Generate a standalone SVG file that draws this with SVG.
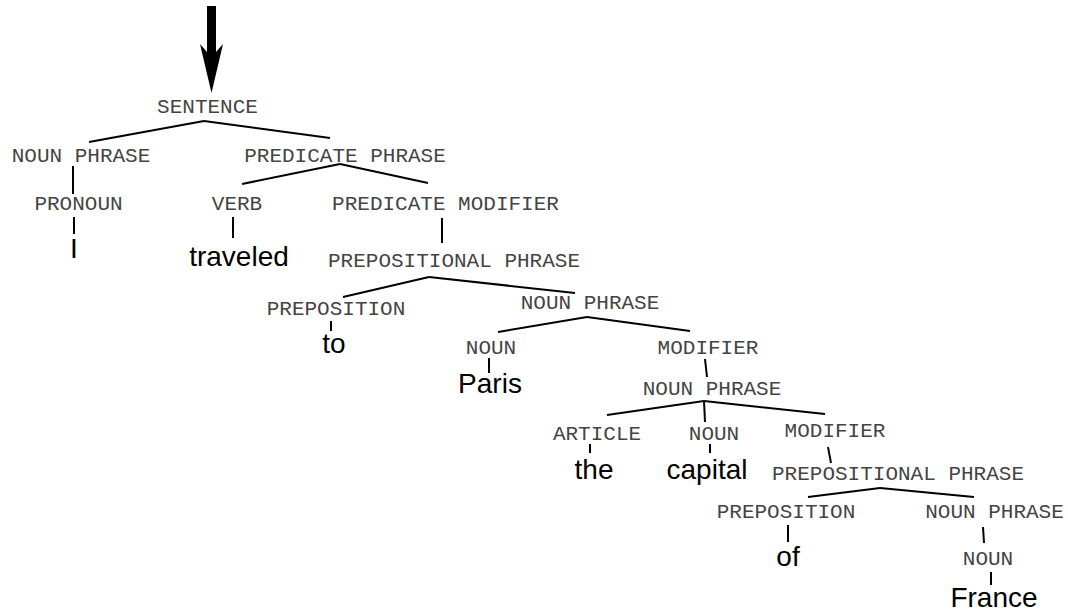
<svg xmlns="http://www.w3.org/2000/svg" width="1068" height="613" viewBox="0 0 1068 613">
  <style>
    .cat { font-family: "Liberation Mono", "Courier New", monospace; font-size: 21px; fill: #444; text-anchor: middle; }
    .word { font-family: "Liberation Sans", Arial, sans-serif; font-size: 28px; fill: #000; text-anchor: middle; }
    .edges line { stroke: #000; stroke-width: 2; stroke-linecap: butt; }
  </style>
  <rect width="1068" height="613" fill="#fff"/>

  <!-- entry arrow pointing down to the root -->
  <polygon id="entry-arrow" points="207,6 216,6 216,52 223,44 211.5,93 200,44 207,52" fill="#000"/>

  <!-- tree edges -->
  <g id="connectors" class="edges">
    <line x1="204" y1="121" x2="89" y2="142"/>
    <line x1="204" y1="121" x2="330" y2="138"/>
    <line x1="340" y1="164" x2="242" y2="184"/>
    <line x1="340" y1="164" x2="428" y2="183"/>
    <line x1="73" y1="166" x2="73" y2="194"/>
    <line x1="74" y1="217" x2="74" y2="234"/>
    <line x1="233" y1="217" x2="233" y2="238"/>
    <line x1="442" y1="218" x2="442" y2="243"/>
    <line x1="429" y1="277" x2="343" y2="297"/>
    <line x1="429" y1="277" x2="575" y2="293"/>
    <line x1="331" y1="321" x2="331" y2="331"/>
    <line x1="587" y1="317" x2="498" y2="332"/>
    <line x1="587" y1="317" x2="690" y2="331"/>
    <line x1="489" y1="358" x2="489" y2="373"/>
    <line x1="705" y1="359" x2="707" y2="377"/>
    <line x1="704" y1="401" x2="607" y2="415"/>
    <line x1="704" y1="401" x2="705" y2="422"/>
    <line x1="704" y1="401" x2="825" y2="414"/>
    <line x1="590" y1="444" x2="590" y2="453"/>
    <line x1="710" y1="444" x2="710" y2="453"/>
    <line x1="828" y1="447" x2="831" y2="463"/>
    <line x1="880" y1="488" x2="808" y2="497"/>
    <line x1="880" y1="488" x2="974" y2="497"/>
    <line x1="788" y1="525" x2="788" y2="542"/>
    <line x1="983" y1="527" x2="984" y2="543"/>
    <line x1="991" y1="572" x2="991" y2="585"/>
  </g>

  <!-- category nodes -->
  <g id="n-sentence"><text class="cat" x="207.5" y="113">SENTENCE</text></g>
  <g id="n-np1"><text class="cat" x="81" y="162">NOUN PHRASE</text></g>
  <g id="n-pp-pred"><text class="cat" x="345" y="162">PREDICATE PHRASE</text></g>
  <g id="n-pronoun"><text class="cat" x="78.5" y="210">PRONOUN</text></g>
  <g id="n-verb"><text class="cat" x="237" y="210">VERB</text></g>
  <g id="n-predmod"><text class="cat" x="445.5" y="210">PREDICATE MODIFIER</text></g>
  <g id="n-prepphrase1"><text class="cat" x="454" y="267">PREPOSITIONAL PHRASE</text></g>
  <g id="n-prep1"><text class="cat" x="336" y="315">PREPOSITION</text></g>
  <g id="n-np2"><text class="cat" x="590" y="309">NOUN PHRASE</text></g>
  <g id="n-noun1"><text class="cat" x="491" y="354">NOUN</text></g>
  <g id="n-mod1"><text class="cat" x="708" y="354">MODIFIER</text></g>
  <g id="n-np3"><text class="cat" x="712" y="395">NOUN PHRASE</text></g>
  <g id="n-article"><text class="cat" x="597" y="440">ARTICLE</text></g>
  <g id="n-noun2"><text class="cat" x="714" y="440">NOUN</text></g>
  <g id="n-mod2"><text class="cat" x="835" y="437">MODIFIER</text></g>
  <g id="n-prepphrase2"><text class="cat" x="898" y="480">PREPOSITIONAL PHRASE</text></g>
  <g id="n-prep2"><text class="cat" x="786" y="518">PREPOSITION</text></g>
  <g id="n-np4"><text class="cat" x="994.5" y="518">NOUN PHRASE</text></g>
  <g id="n-noun3"><text class="cat" x="988" y="565">NOUN</text></g>

  <!-- leaf words -->
  <g id="w-i"><text class="word" x="74" y="258">I</text></g>
  <g id="w-traveled"><text class="word" x="239" y="266">traveled</text></g>
  <g id="w-to"><text class="word" x="334" y="353">to</text></g>
  <g id="w-paris"><text class="word" x="490" y="393">Paris</text></g>
  <g id="w-the"><text class="word" x="594" y="479">the</text></g>
  <g id="w-capital"><text class="word" x="707" y="479">capital</text></g>
  <g id="w-of"><text class="word" x="788" y="566">of</text></g>
  <g id="w-france"><text class="word" x="994" y="607">France</text></g>
</svg>
